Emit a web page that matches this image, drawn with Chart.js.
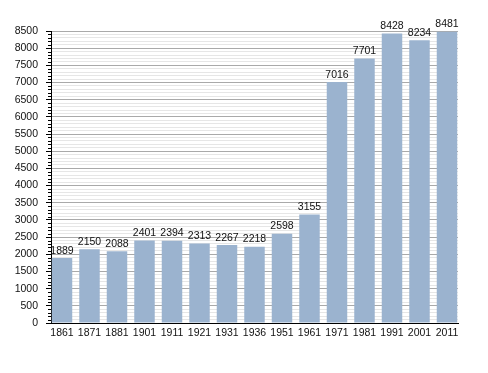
<!DOCTYPE html>
<html>
<head>
<meta charset="utf-8">
<script src="https://cdn.jsdelivr.net/npm/chart.js@4/dist/chart.umd.min.js"></script>
<style>
  body { margin: 0; background: #fff; }
  #wrap { width: 488px; height: 373px; }
</style>
</head>
<body>
<div id="wrap"><canvas id="popChart" width="488" height="373"></canvas></div>
<script>
// census years and population
var years = ['1861', '1871', '1881', '1901', '1911', '1921', '1931', '1936', '1951', '1961', '1971', '1981', '1991', '2001', '2011'];
var population = [1889, 2150, 2088, 2401, 2394, 2313, 2267, 2218, 2598, 3155, 7016, 7701, 8428, 8234, 8481];
var yTicks = [];
for (var v = 0; v <= 8500; v += 100) yTicks.push(v);

var fontFamily = "'Liberation Sans', Arial, sans-serif";

// value labels over the bars + short minor ticks on the y axis
var barLabels = {
    id: 'barLabels',
    afterDatasetsDraw: function(chart) {
        var ctx = chart.ctx;
        var meta = chart.getDatasetMeta(0);
        ctx.save();
        ctx.font = '10.5px ' + fontFamily;
        ctx.fillStyle = '#111';
        ctx.textAlign = 'center';
        ctx.textBaseline = 'bottom';
        meta.data.forEach(function(bar, i) {
            ctx.fillText(population[i], bar.x, bar.y - 2);
        });
        ctx.restore();
    },
    afterDraw: function(chart) {
        var ctx = chart.ctx;
        var yScale = chart.scales.y;
        var left = chart.chartArea.left;
        ctx.save();
        ctx.strokeStyle = '#000';
        ctx.lineWidth = 1;
        ctx.beginPath();
        yScale.ticks.forEach(function(t) {
            if (t.value % 500 !== 0) {
                var py = Math.round(yScale.getPixelForValue(t.value)) + 0.5;
                ctx.moveTo(left - 3, py);
                ctx.lineTo(left, py);
            }
        });
        ctx.stroke();
        ctx.restore();
    }
};

var ctx = document.getElementById('popChart').getContext('2d');
new Chart(ctx, {
    type: 'bar',
    data: {
        datasets: [{
            data: population.map(function(p, i) { return { x: i, y: p }; }),
            backgroundColor: '#9bb3cf',
            borderWidth: 0,
            categoryPercentage: 1,
            barPercentage: 0.745
        }]
    },
    options: {
        responsive: false,
        animation: false,
        layout: { padding: { top: 31, right: 30, left: 0, bottom: 0 } },
        plugins: {
            legend: { display: false },
            tooltip: { enabled: false }
        },
        scales: {
            x: {
                type: 'linear',
                offset: false,
                min: -0.4,
                max: 14.4,
                afterBuildTicks: function(scale) {
                    scale.ticks = years.map(function(y, i) { return { value: i }; });
                },
                afterFit: function(scale) { scale.height = 50; },
                grid: { display: false, drawTicks: false, offset: false },
                border: { color: '#000', width: 1 },
                ticks: {
                    autoSkip: false,
                    maxRotation: 0,
                    padding: 4,
                    color: '#111',
                    font: { family: fontFamily, size: 10.5 },
                    callback: function(value) { return years[value]; }
                }
            },
            y: {
                min: 0,
                max: 8500,
                afterBuildTicks: function(scale) {
                    scale.ticks = yTicks.map(function(v) { return { value: v }; });
                },
                afterFit: function(scale) { scale.width = 51; },
                grid: {
                    color: function(c) { return c.tick && c.tick.value % 500 === 0 ? '#a9a9a9' : '#e6e6e6'; },
                    tickColor: function(c) { return c.tick && c.tick.value % 500 === 0 ? '#000' : 'rgba(0,0,0,0)'; },
                    tickLength: 5
                },
                border: { color: '#000', width: 1 },
                ticks: {
                    autoSkip: false,
                    padding: 8,
                    color: '#111',
                    font: { family: fontFamily, size: 10.5 },
                    callback: function(value) { return value % 500 === 0 ? value : ''; }
                }
            }
        }
    },
    plugins: [barLabels]
});
</script>
</body>
</html>
